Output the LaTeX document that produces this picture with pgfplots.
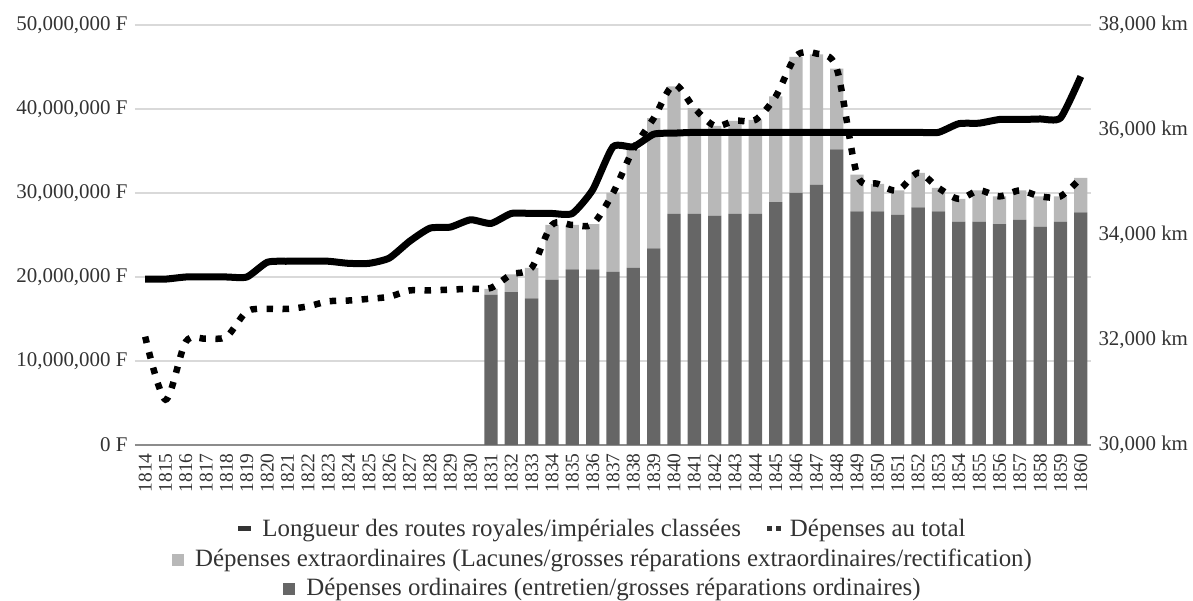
\documentclass[border=0pt]{standalone}
\usepackage{pgfplots}
\pgfplotsset{compat=1.18}
\usepackage{pgfplotstable}
\usepackage{fontspec}
\setmainfont{Liberation Serif}
\definecolor{darkbar}{RGB}{102,102,102}
\definecolor{lightbar}{RGB}{184,184,184}
\definecolor{gridc}{RGB}{217,217,217}
\definecolor{txt}{RGB}{51,51,51}
\definecolor{axisc}{RGB}{140,140,140}

% Dépenses (F): x index (0 = 1814), ordinaires, extraordinaires
\pgfplotstableread{
x year dark extra
17 1831 17900000 700000
18 1832 18200000 2100000
19 1833 17450000 3650000
20 1834 19700000 6500000
21 1835 20900000 5300000
22 1836 20900000 5400000
23 1837 20600000 9400000
24 1838 21100000 14100000
25 1839 23400000 15500000
26 1840 27500000 15200000
27 1841 27500000 12600000
28 1842 27300000 10700000
29 1843 27500000 11100000
30 1844 27500000 11200000
31 1845 28900000 12600000
32 1846 30000000 16200000
33 1847 31000000 15500000
34 1848 35200000 9600000
35 1849 27800000 4400000
36 1850 27800000 3300000
37 1851 27400000 2900000
38 1852 28300000 4100000
39 1853 27800000 2800000
40 1854 26600000 2700000
41 1855 26600000 3700000
42 1856 26300000 3300000
43 1857 26800000 3500000
44 1858 26000000 3600000
45 1859 26600000 3000000
46 1860 27700000 4100000
}\bars

% Dépenses au total (F)
\pgfplotstableread{
x total
0 12900000
1 5400000
2 12300000
3 12650000
4 12900000
5 15900000
6 16200000
7 16200000
8 16500000
9 17100000
10 17200000
11 17400000
12 17650000
13 18400000
14 18400000
15 18500000
16 18600000
17 18700000
18 20300000
19 21100000
20 26200000
21 26200000
22 26300000
23 30000000
24 35200000
25 38900000
26 42900000
27 40100000
28 38000000
29 38600000
30 38700000
31 41500000
32 46300000
33 46600000
34 44800000
35 32200000
36 31100000
37 30300000
38 32400000
39 30600000
40 29300000
41 30300000
42 29600000
43 30300000
44 29600000
45 29600000
46 31800000
}\total

% Longueur des routes (km)
\pgfplotstableread{
x km
0 33160
1 33160
2 33200
3 33200
4 33200
5 33200
6 33480
7 33500
8 33500
9 33500
10 33460
11 33460
12 33560
13 33880
14 34130
15 34150
16 34290
17 34220
18 34410
19 34410
20 34410
21 34410
22 34860
23 35680
24 35680
25 35920
26 35940
27 35955
28 35955
29 35955
30 35955
31 35955
32 35955
33 35955
34 35955
35 35955
36 35955
37 35955
38 35955
39 35955
40 36120
41 36130
42 36200
43 36200
44 36210
45 36230
46 37020
}\km

\pgfplotsset{
  common/.style={
    scale only axis, width=956bp, height=420bp,
    xmin=-0.5, xmax=46.5,
    scaled y ticks=false, scaled x ticks=false,
    tick style={draw=none},
    major tick length=0pt,
    tick label style={text=txt},
    yticklabel shift=4bp,
  }
}

\begin{document}
\begin{tikzpicture}
% bars + left axis
\begin{axis}[common,
  ymin=0, ymax=50000000,
  ybar stacked, bar width=13.3bp,
  axis x line*=bottom, axis y line*=left,
  x axis line style={draw=axisc, line width=1.3bp, -},
  y axis line style={draw=none},
  ymajorgrids, grid style={gridc, line width=1.3bp},
  ytick={0,10000000,20000000,30000000,40000000,50000000},
  yticklabels={{0 F},{10,000,000 F},{20,000,000 F},{30,000,000 F},{40,000,000 F},{50,000,000 F}},
  y tick label style={font=\fontsize{21}{21}\selectfont},
  xtick={0,...,46},
  xticklabels={1814,1815,1816,1817,1818,1819,1820,1821,1822,1823,1824,1825,1826,1827,1828,1829,1830,1831,1832,1833,1834,1835,1836,1837,1838,1839,1840,1841,1842,1843,1844,1845,1846,1847,1848,1849,1850,1851,1852,1853,1854,1855,1856,1857,1858,1859,1860},
  xticklabel shift=5bp,
  x tick label style={rotate=90, anchor=east, font=\fontsize{19.5}{19.5}\selectfont},
]
\addplot[fill=darkbar, draw=none] table[x=x, y=dark] {\bars};
\addplot[fill=lightbar, draw=none] table[x=x, y=extra] {\bars};
\coordinate (ll) at (rel axis cs:0,0);
\coordinate (ur) at (rel axis cs:1,1);
\end{axis}
% road length, right axis
\begin{axis}[common,
  ymin=30000, ymax=38000,
  axis x line=none, axis y line*=right,
  y axis line style={draw=none},
  ytick={30000,32000,34000,36000,38000},
  yticklabels={{30,000 km},{32,000 km},{34,000 km},{36,000 km},{38,000 km}},
  y tick label style={font=\fontsize{21}{21}\selectfont},
]
\addplot[black, line width=7bp, smooth, tension=0.35, no markers] table[x=x, y=km] {\km};
\end{axis}
% total expenses, left scale
\begin{axis}[common, ymin=0, ymax=50000000, hide axis]
\addplot[black, line width=6.5bp, dash pattern=on 6.5bp off 9.5bp, smooth, tension=0.5, no markers] table[x=x, y=total] {\total};
\end{axis}
% legend
\begin{scope}[every node/.style={anchor=base, text=txt, font=\fontsize{25}{25}\selectfont, inner sep=0pt}]
\node at ([xshift=467bp, yshift=-91.7bp]ll) {\raisebox{6bp}{\rule{13bp}{4.5bp}}\hspace{11bp}Longueur des routes royales/impériales classées\hspace{26bp}\raisebox{6bp}{\rule{5bp}{5bp}\hspace{4bp}\rule{5bp}{5bp}}\hspace{9bp}Dépenses au total};
\node at ([xshift=467bp, yshift=-121.3bp]ll) {\textcolor{lightbar}{\rule{12bp}{12bp}}\hspace{11bp}Dépenses extraordinaires (Lacunes/grosses réparations extraordinaires/rectification)};
\node at ([xshift=467bp, yshift=-150.5bp]ll) {\textcolor{darkbar}{\rule{12bp}{12bp}}\hspace{11bp}Dépenses ordinaires (entretien/grosses réparations ordinaires)};
\end{scope}
\pgfresetboundingbox
\path[use as bounding box] ([xshift=-135bp, yshift=-156bp]ll) rectangle ([xshift=102bp, yshift=25bp]ur);
\end{tikzpicture}
\end{document}
